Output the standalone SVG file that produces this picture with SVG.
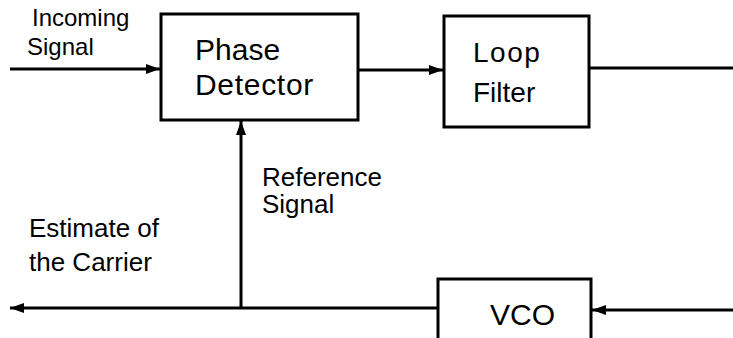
<svg xmlns="http://www.w3.org/2000/svg" width="733" height="338" viewBox="0 0 733 338">
<style>
.box{fill:#fff;stroke:#000;stroke-width:3}
.ln{fill:none;stroke:#000;stroke-width:3}
text{font-family:"Liberation Sans",Arial,sans-serif;fill:#000}
.lbl{font-size:24px}
.big{font-size:30px}
.lf{font-size:28px}
.mid{font-size:26px}
</style>
<defs>
<marker id="ah" viewBox="0 0 14 10" refX="14" refY="5" markerWidth="14" markerHeight="10" markerUnits="userSpaceOnUse" orient="auto">
<path d="M0,0 L14,5 L0,10 z" fill="#000"/>
</marker>
</defs>
<g id="connectors">
<line class="ln" x1="10" y1="69" x2="160" y2="69" marker-end="url(#ah)"/>
<line class="ln" x1="358" y1="70" x2="443" y2="70" marker-end="url(#ah)"/>
<line class="ln" x1="589" y1="68" x2="733" y2="68"/>
<line class="ln" x1="733" y1="310" x2="592" y2="310" marker-end="url(#ah)"/>
<line class="ln" x1="438" y1="308" x2="10" y2="308" marker-end="url(#ah)"/>
<line class="ln" x1="241" y1="308" x2="241" y2="121" marker-end="url(#ah)"/>
</g>
<g id="phase-detector">
<rect class="box" x="161" y="14" width="197" height="106"/>
<text class="big" x="195" y="60">Phase</text>
<text class="big" x="195" y="95" letter-spacing="0.7">Detector</text>
</g>
<g id="loop-filter">
<rect class="box" x="444" y="16" width="145" height="111"/>
<text class="lf" x="473" y="62" letter-spacing="1.5">Loop</text>
<text class="lf" x="473" y="102">Filter</text>
</g>
<g id="vco">
<rect class="box" x="438" y="279" width="153" height="75"/>
<text class="big" x="490" y="325" font-size="31">VCO</text>
</g>
<g id="labels">
<text class="lbl" x="32" y="26">Incoming</text>
<text class="lbl" x="27" y="55">Signal</text>
<text class="mid" x="262" y="186">Reference</text>
<text class="mid" x="262" y="213">Signal</text>
<text class="mid" x="29" y="237">Estimate of</text>
<text class="mid" x="29" y="271">the Carrier</text>
</g>
</svg>
